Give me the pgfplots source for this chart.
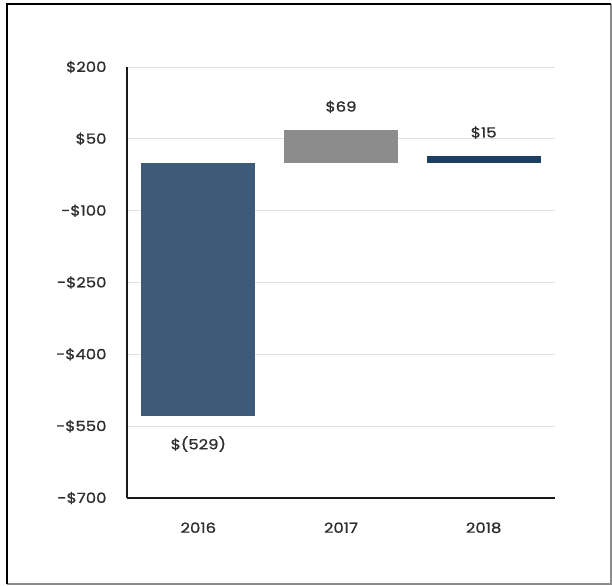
\documentclass[border=0pt]{standalone}
\usepackage{pgfplots}
\pgfplotsset{compat=1.18}
\usepackage{fontspec}
\setmainfont{Poppins}
\newfontfamily\labfont{Poppins}[FakeStretch=1.18, RawFeature={embolden=1.0}]
\definecolor{barA}{HTML}{3D5A78}
\definecolor{barB}{HTML}{8C8C8C}
\definecolor{barC}{HTML}{1E3F60}
\definecolor{txt}{HTML}{2E2E2E}
\begin{document}
\begin{tikzpicture}[x=1bp,y=1bp]
\useasboundingbox (0,0) rectangle (612,586);
\fill[white] (0,0) rectangle (612,586);
\draw[black!45, line width=1.2bp] (7,2) -- (611,2) -- (611,582);
\draw[black, line width=1.6bp] (7,2) -- (7,582) -- (611,582);
\begin{axis}[
  at={(127bp,88bp)}, anchor=south west,
  scale only axis, width=428bp, height=431bp,
  xmin=-0.5, xmax=2.5, ymin=-700, ymax=200,
  axis x line=bottom, axis y line=left,
  axis line style={-, line width=1.8bp, black!90},
  ytick={-700,-550,-400,-250,-100,50,200},
  yticklabels={-\$700,-\$550,-\$400,-\$250,-\$100,\$50,\$200},
  xtick={0,1,2}, xticklabels={2016,2017,2018},
  major tick length=0pt,
  ymajorgrids, grid style={black!12, line width=0.8bp},
  ybar, bar width=0.8,
  tick label style={font=\labfont\fontsize{14}{16}\selectfont, text=txt},
  yticklabel style={xshift=-17bp},
  xticklabel style={yshift=-21bp},
  clip=false,
]
\addplot[fill=barA, draw=none, bar shift=0pt] coordinates {(0,-529)};
\addplot[fill=barB, draw=none, bar shift=0pt] coordinates {(1,69)};
\addplot[fill=barC, draw=none, bar shift=0pt] coordinates {(2,15)};
\node[text=txt, font=\labfont\fontsize{14}{16}\selectfont] at (axis cs:0,-529) [yshift=-28bp] {\$(529)};
\node[text=txt, font=\labfont\fontsize{14}{16}\selectfont] at (axis cs:1,69) [yshift=23bp] {\$69};
\node[text=txt, font=\labfont\fontsize{14}{16}\selectfont] at (axis cs:2,15) [yshift=23bp] {\$15};
\end{axis}
\end{tikzpicture}
\end{document}
